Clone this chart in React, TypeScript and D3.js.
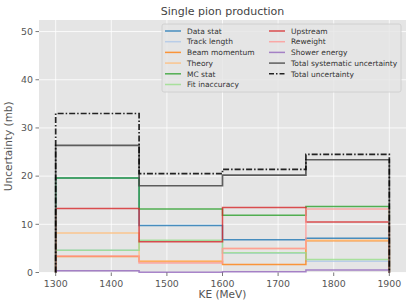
import React from "react";
import * as d3 from "d3";

// bin edges (MeV)
const edges = [1300, 1450, 1600, 1750, 1900];
const xTicks = [1300, 1400, 1500, 1600, 1700, 1800, 1900];
const yTicks = [0, 10, 20, 30, 40, 50];

const seriesNames = [
  "Data stat", "Track length", "Beam momentum", "Theory", "MC stat",
  "Fit inaccuracy", "Upstream", "Reweight", "Shower energy",
  "Total systematic uncertainty", "Total uncertainty",
];
const dataStat = [19.6, 9.75, 6.8, 7.1];
const trackLength = [4.6, 6.6, 4.0, 2.35];
const beamMomentum = [3.3, 2.3, 1.65, 6.6];
const theory = [8.2, 2.4, 5.0, 6.7];
const mcStat = [19.6, 13.2, 11.9, 13.7];
const fitInaccuracy = [4.6, 6.7, 4.1, 2.7];
const upstream = [13.3, 6.4, 13.5, 10.5];
const reweight = [3.4, 1.95, 5.0, 13.2];
const showerEnergy = [0.35, 0.05, 0.15, 0.5];
const totalSyst = [26.4, 18.0, 20.2, 23.4];
const total = [33.0, 20.5, 21.4, 24.5];

const values = [dataStat, trackLength, beamMomentum, theory, mcStat, fitInaccuracy,
  upstream, reweight, showerEnergy, totalSyst, total];
const colors = ["#1f77b4", "#aec7e8", "#ff7f0e", "#ffbb78", "#2ca02c", "#98df8a",
  "#d62728", "#ff9896", "#9467bd", "#444444", "#000000"];

const W = 406, H = 302;
const m = { left: 39, right: 406, top: 20, bottom: 272.5 };

export default function App() {
  const x = d3.scaleLinear().domain([1270, 1930]).range([m.left, m.right]);
  const y = d3.scaleLinear().domain([0, 52.4]).range([m.bottom, m.top]);

  const stepPath = (vals: number[]) => {
    const pts: [number, number][] = [[edges[0], 0]];
    vals.forEach((v, i) => {
      pts.push([edges[i], v]);
      pts.push([edges[i + 1], v]);
    });
    pts.push([edges[edges.length - 1], 0]);
    return d3.line<[number, number]>().x(d => x(d[0])).y(d => y(d[1]))(pts) || "";
  };

  const font = "DejaVu Sans, sans-serif";
  const legX = 162, legY = 24, legW = 239, legH = 68;
  const rowH = 10.7;

  return (
    <svg width={W} height={H} style={{ position: "absolute", left: 0, top: 0 }} fontFamily={font}>
      <rect x={m.left} y={m.top} width={m.right - m.left} height={m.bottom - m.top} fill="#e5e5e5" />
      {yTicks.map(t => (
        <line key={"gy" + t} x1={m.left} x2={m.right} y1={y(t)} y2={y(t)} stroke="#fff" strokeWidth={0.8} />
      ))}
      {xTicks.map(t => (
        <line key={"gx" + t} x1={x(t)} x2={x(t)} y1={m.top} y2={m.bottom} stroke="#fff" strokeWidth={0.8} />
      ))}
      {values.map((vals, i) => (
        <path key={seriesNames[i]} d={stepPath(vals)} fill="none" stroke={colors[i]}
          strokeWidth={i >= 9 ? 1.7 : 1.5} strokeOpacity={i >= 9 ? 0.85 : 0.8}
          strokeDasharray={i === 10 ? "6,2,1.5,2" : undefined} />
      ))}
      {/* axes ticks */}
      {xTicks.map(t => (
        <g key={"xt" + t}>
          <line x1={x(t)} x2={x(t)} y1={m.bottom} y2={m.bottom + 3.5} stroke="#555" strokeWidth={0.8} />
          <text x={x(t)} y={m.bottom + 14} textAnchor="middle" fontSize={9.4} fill="#555">{t}</text>
        </g>
      ))}
      {yTicks.map(t => (
        <g key={"yt" + t}>
          <line x1={m.left - 3.5} x2={m.left} y1={y(t)} y2={y(t)} stroke="#555" strokeWidth={0.8} />
          <text x={m.left - 6} y={y(t) + 3.3} textAnchor="end" fontSize={9.4} fill="#555">{t}</text>
        </g>
      ))}
      <text x={(m.left + m.right) / 2} y={298} textAnchor="middle" fontSize={10.5} fill="#555">KE (MeV)</text>
      <text transform={`translate(12,${(m.top + m.bottom) / 2}) rotate(-90)`} textAnchor="middle" fontSize={10.5} fill="#555">Uncertainty (mb)</text>
      <text x={(m.left + m.right) / 2} y={15} textAnchor="middle" fontSize={11} fill="#444">Single pion production</text>
      {/* legend */}
      <rect x={legX} y={legY} width={legW} height={legH} fill="#e5e5e5" fillOpacity={0.8} stroke="#cccccc" strokeWidth={0.8} rx={2} />
      {seriesNames.map((name, i) => {
        const col = i < 6 ? 0 : 1;
        const row = i < 6 ? i : i - 6;
        const lx = col === 0 ? 165 : 269;
        const ly = 31 + row * rowH;
        return (
          <g key={"lg" + name}>
            <line x1={lx} x2={lx + 16} y1={ly} y2={ly} stroke={colors[i]}
              strokeWidth={1.5} strokeOpacity={i >= 9 ? 0.85 : 0.8}
              strokeDasharray={i === 10 ? "5,2,1.5,2" : undefined} />
            <text x={lx + 22} y={ly + 2.7} fontSize={7.5} fill="#333">{name}</text>
          </g>
        );
      })}
    </svg>
  );
}
